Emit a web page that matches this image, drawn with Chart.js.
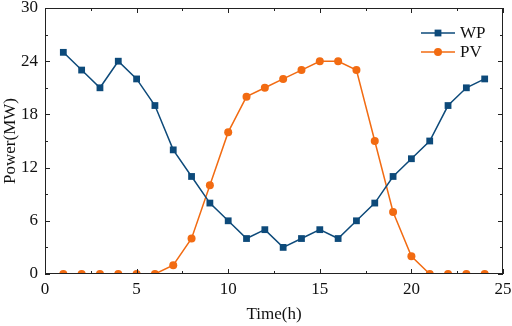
<!DOCTYPE html>
<html><head><meta charset="utf-8">
<script src="https://cdn.jsdelivr.net/npm/chart.js@4"></script>
<style>html,body{margin:0;padding:0;background:#fff}#w{width:512px;height:326px}</style>
</head><body><div id="w"><canvas id="c" width="512" height="326"></canvas></div>
<script>
const hours = [1,2,3,4,5,6,7,8,9,10,11,12,13,14,15,16,17,18,19,20,21,22,23,24];
const wp = [25,23,21,24,22,19,14,11,8,6,4,5,3,4,5,4,6,8,11,13,15,19,21,22];
const pv = [0,0,0,0,0,0,1,4,10,16,20,21,22,23,24,24,23,15,7,2,0,0,0,0];
const xTicks = [0,5,10,15,20,25];
const yTicks = [0,6,12,18,24,30];
const seriesNames = ['WP','PV'];

const FONT = "'Liberation Serif','Times New Roman',serif";
const blue = '#0d4a7a', orange = '#f26b12';

const frame = {
  id:'frame',
  afterDraw(chart){
    const {ctx, chartArea:a, scales:{x,y}} = chart;
    ctx.save();
    ctx.strokeStyle='#222'; ctx.lineWidth=1;
    ctx.strokeRect(a.left+0.5, a.top+0.5, a.right-a.left-1, a.bottom-a.top-1);
    ctx.beginPath();
    const xt = [];
    for(let i=0;i<xTicks.length;i++){ xt.push([xTicks[i],5]); if(i<xTicks.length-1) xt.push([(xTicks[i]+xTicks[i+1])/2,3]); }
    xt.forEach(([v,l])=>{ const p=Math.round(x.getPixelForValue(v))+0.5; ctx.moveTo(p,a.bottom); ctx.lineTo(p,a.bottom-l); ctx.moveTo(p,a.top); ctx.lineTo(p,a.top+l); });
    const yt = [];
    for(let i=0;i<yTicks.length;i++){ yt.push([yTicks[i],5]); if(i<yTicks.length-1) yt.push([(yTicks[i]+yTicks[i+1])/2,3]); }
    yt.forEach(([v,l])=>{ const p=Math.round(y.getPixelForValue(v))+0.5; ctx.moveTo(a.left,p); ctx.lineTo(a.left+l,p); ctx.moveTo(a.right,p); ctx.lineTo(a.right-l,p); });
    ctx.stroke();
    // legend
    chart.data.datasets.forEach((ds,i)=>{
      const yy = a.top + 25 + i*19;
      const x0 = a.right-82, x1 = a.right-48;
      ctx.strokeStyle=ds.borderColor; ctx.lineWidth=1.5;
      ctx.beginPath(); ctx.moveTo(x0,yy); ctx.lineTo(x1,yy); ctx.stroke();
      ctx.fillStyle=ds.backgroundColor;
      const cx=(x0+x1)/2;
      if(ds.pointStyle==='rect'){ ctx.fillRect(cx-3.4,yy-3.4,6.8,6.8); }
      else { ctx.beginPath(); ctx.arc(cx,yy,4,0,Math.PI*2); ctx.fill(); }
      ctx.fillStyle='#111'; ctx.font='17px '+FONT; ctx.textBaseline='middle'; ctx.textAlign='left';
      ctx.fillText(ds.label, x1+5, yy+1);
    });
    ctx.restore();
  }
};

new Chart(document.getElementById('c'),{
  type:'line',
  data:{datasets:[
    {label:seriesNames[0],data:hours.map((h,i)=>({x:h,y:wp[i]})),borderColor:blue,backgroundColor:blue,borderWidth:1.5,pointStyle:'rect',pointRadius:4.8,pointBorderWidth:0,tension:0},
    {label:seriesNames[1],data:hours.map((h,i)=>({x:h,y:pv[i]})),borderColor:orange,backgroundColor:orange,borderWidth:1.5,pointStyle:'circle',pointRadius:4,pointBorderWidth:0,tension:0}
  ]},
  options:{
    responsive:false,animation:false,
    layout:{padding:{top:8,right:9,left:0,bottom:0}},
    plugins:{legend:{display:false},tooltip:{enabled:false}},
    scales:{
      x:{type:'linear',min:0,max:25,
        afterBuildTicks(s){s.ticks=xTicks.map(v=>({value:v}));},
        afterFit(s){s.height=52;s.paddingLeft=0;s.paddingRight=0;},
        grid:{display:false,drawTicks:false},border:{display:false},
        ticks:{font:{family:FONT,size:17},color:'#111',padding:5,maxRotation:0},
        title:{display:true,text:'Time(h)',font:{family:FONT,size:17},color:'#111',padding:{top:2,bottom:1}}},
      y:{min:0,max:30,
        afterBuildTicks(s){s.ticks=yTicks.map(v=>({value:v}));},
        afterFit(s){s.width=45;s.paddingTop=0;s.paddingBottom=0;},
        grid:{display:false,drawTicks:false},border:{display:false},
        ticks:{font:{family:FONT,size:17},color:'#111',padding:7},
        title:{display:true,text:'Power(MW)',font:{family:FONT,size:17},color:'#111',padding:{top:0,bottom:2}}}
    }
  },
  plugins:[frame]
});
</script></body></html>
